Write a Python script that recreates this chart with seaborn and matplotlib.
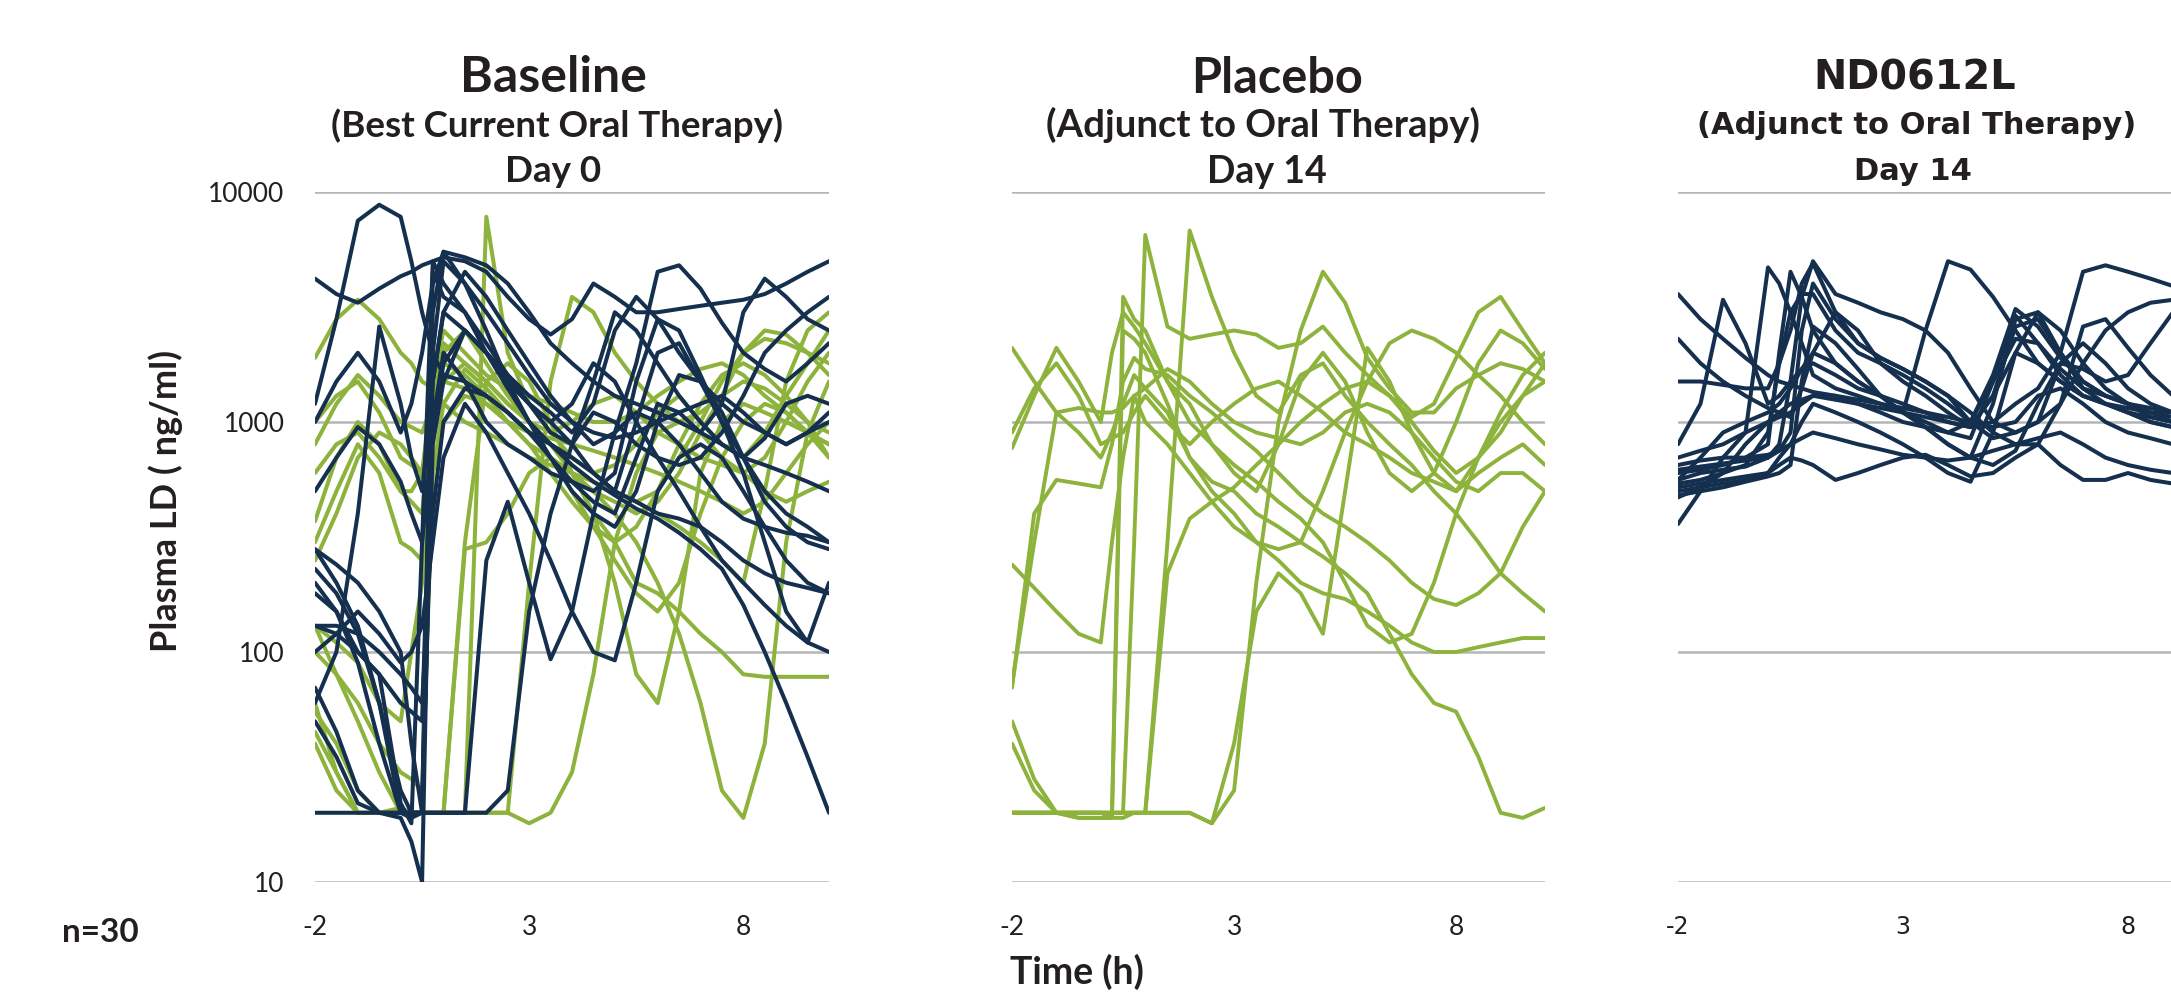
import matplotlib
matplotlib.use("Agg")
import matplotlib.pyplot as plt
import pandas as pd
import seaborn as sns
from matplotlib.ticker import NullLocator

# ---------------- data ----------------
TIME = [-2, -1.5, -1, -0.5, 0, 0.25, 0.5, 0.75, 1, 1.5, 2, 2.5, 3, 3.5, 4, 4.5,
        5, 5.5, 6, 6.5, 7, 7.5, 8, 8.5, 9, 9.5, 10]

# Baseline (Day 0) - subjects later randomised to ND0612L (navy)
BASE_ND = [
    [1200, 2800, 7500, 8800, 7800, 5000, 3000, 2000, 1600, 1500, 1300, 1100, 900, 800, 700, 600, 500, 450, 400, 380, 350, 300, 250, 220, 200, 190, 180],
    [4200, 3600, 3300, 3800, 4300, 4500, 4800, 5000, 5200, 5000, 4500, 3500, 2800, 2400, 2800, 4000, 3500, 3000, 3000, 3100, 3200, 3300, 3400, 3600, 4000, 4500, 5000],
    [280, 200, 130, 60, 20, 20, 20, 3000, 5500, 4000, 2500, 1500, 1000, 700, 500, 400, 350, 500, 1000, 1600, 1500, 1100, 700, 450, 350, 300, 280],
    [200, 150, 90, 40, 20, 19, 20, 4500, 3500, 3000, 2000, 1500, 1200, 1000, 800, 600, 500, 1000, 2000, 2200, 1500, 1000, 700, 500, 400, 350, 300],
    [130, 120, 100, 80, 22, 18, 300, 5000, 4000, 3000, 2200, 1600, 1200, 900, 800, 1500, 3000, 2500, 1800, 1300, 1000, 800, 700, 650, 600, 550, 500],
    [70, 45, 25, 20, 20, 20, 20, 20, 20, 20, 250, 450, 200, 93, 150, 400, 900, 1100, 1000, 800, 600, 450, 380, 350, 330, 320, 300],
    [20, 20, 20, 20, 19, 15, 10, 2000, 5000, 4000, 3000, 2200, 1600, 1200, 1000, 900, 850, 900, 1000, 1100, 1200, 1300, 1100, 900, 800, 900, 1000],
    [60, 100, 400, 2600, 1200, 700, 500, 1500, 3000, 2500, 2000, 1600, 1300, 1100, 900, 1200, 2500, 3500, 2800, 2000, 1500, 1200, 1000, 900, 800, 900, 1100],
    [500, 700, 950, 800, 550, 400, 300, 900, 1800, 2500, 2000, 1500, 1200, 1000, 1200, 1800, 1500, 1000, 700, 500, 350, 250, 200, 160, 130, 110, 100],
    [100, 120, 150, 120, 90, 100, 130, 300, 700, 1200, 900, 600, 400, 250, 150, 100, 92, 200, 500, 700, 800, 700, 500, 350, 250, 200, 180],
    [280, 240, 200, 150, 100, 40, 20, 800, 1500, 2500, 2000, 1400, 1000, 800, 650, 550, 480, 420, 380, 330, 280, 230, 160, 100, 60, 35, 20],
    [1000, 1500, 2000, 1500, 900, 1200, 2000, 4000, 5500, 5200, 4800, 4000, 3000, 2200, 1800, 1500, 1300, 1200, 1100, 1000, 900, 1200, 3000, 4200, 3500, 2800, 2500],
    [180, 150, 100, 80, 60, 55, 50, 1500, 3000, 4500, 3500, 2500, 1800, 1300, 1000, 800, 900, 1800, 4500, 4800, 3800, 2700, 2000, 1700, 1500, 1800, 2200],
    [230, 180, 120, 60, 25, 20, 20, 1000, 2000, 1500, 1000, 800, 700, 600, 550, 500, 600, 1500, 2800, 2500, 1600, 1000, 600, 300, 150, 110, 200],
    [50, 35, 22, 20, 20, 20, 20, 20, 20, 20, 20, 25, 150, 400, 800, 1100, 1000, 800, 700, 650, 700, 900, 1300, 2000, 2500, 3000, 3500],
    [130, 130, 120, 100, 80, 70, 60, 400, 1000, 1400, 1300, 1100, 900, 700, 550, 450, 400, 700, 1200, 1100, 900, 800, 700, 850, 1200, 1300, 1200],
]

# Baseline (Day 0) - subjects later randomised to placebo (green)
BASE_PL = [
    [1900, 2800, 3400, 2800, 2000, 1800, 1500, 1400, 1200, 1000, 900, 800, 700, 650, 600, 550, 500, 450, 500, 700, 1000, 1500, 2000, 2300, 2200, 2000, 1800],
    [370, 700, 1000, 800, 500, 500, 600, 1000, 1500, 1800, 1500, 1200, 1000, 800, 600, 400, 200, 80, 60, 150, 600, 1000, 1200, 1100, 1000, 900, 800],
    [130, 80, 50, 30, 20, 20, 20, 20, 20, 300, 1500, 1800, 1500, 1000, 600, 400, 300, 200, 180, 150, 120, 100, 80, 78, 78, 78, 78],
    [40, 25, 20, 20, 20, 20, 20, 20, 20, 20, 7800, 2000, 1200, 900, 700, 600, 500, 450, 400, 350, 300, 250, 200, 500, 1500, 2500, 3000],
    [60, 30, 20, 20, 20, 20, 20, 20, 20, 280, 300, 400, 600, 700, 600, 500, 400, 300, 200, 120, 60, 25, 19, 40, 300, 900, 1500],
    [250, 400, 700, 900, 800, 700, 600, 1500, 2500, 2000, 1600, 1400, 1300, 1200, 1100, 1000, 1000, 1100, 1300, 1500, 1700, 1800, 1600, 1300, 1100, 900, 800],
    [800, 1200, 1600, 1300, 1000, 950, 900, 1200, 1500, 1400, 1200, 1000, 800, 700, 600, 500, 450, 400, 450, 600, 900, 1300, 2000, 2500, 2400, 2000, 1600],
    [45, 30, 20, 20, 21, 20, 20, 20, 20, 20, 20, 20, 200, 1500, 3500, 3000, 2000, 1500, 1200, 1000, 1100, 1300, 1500, 1400, 1200, 1000, 900],
    [130, 110, 90, 60, 50, 100, 200, 1000, 2000, 2500, 1800, 1300, 1000, 800, 700, 600, 650, 800, 1100, 1300, 1000, 800, 700, 900, 1300, 1800, 2500],
    [600, 800, 900, 700, 500, 450, 400, 1200, 2200, 1800, 1500, 1200, 1000, 900, 1000, 1200, 1300, 1100, 900, 800, 700, 650, 600, 700, 1000, 1500, 2000],
    [100, 80, 60, 40, 30, 28, 25, 600, 1200, 1700, 1400, 1100, 900, 700, 500, 350, 250, 180, 150, 200, 400, 700, 1000, 1200, 1100, 900, 700],
    [300, 500, 800, 600, 300, 280, 250, 600, 1000, 1300, 1200, 1000, 900, 850, 800, 750, 700, 650, 600, 550, 500, 450, 400, 450, 600, 800, 1000],
    [1000, 1300, 1500, 1100, 700, 650, 600, 1200, 1800, 1600, 1300, 1000, 800, 600, 450, 350, 300, 350, 500, 800, 1200, 1600, 1800, 1600, 1300, 1000, 700],
    [55, 40, 25, 20, 20, 20, 20, 20, 20, 20, 20, 20, 18, 20, 30, 80, 300, 600, 900, 1000, 900, 700, 600, 500, 450, 500, 550],
]

# Day 14 - placebo adjunct (green)
PLACEBO_D14 = [
    [20, 20, 20, 20, 20, 20, 20, 300, 6500, 2600, 2300, 2400, 2500, 2400, 2100, 2200, 2600, 2000, 1600, 1300, 1050, 1200, 1900, 3000, 3500, 2500, 1800],
    [20, 20, 20, 20, 20, 20, 20, 20, 20, 300, 6800, 3500, 2000, 1300, 1100, 1600, 1800, 1300, 1000, 800, 650, 500, 400, 300, 220, 180, 150],
    [20, 20, 20, 20, 20, 20, 20, 20, 20, 20, 20, 18, 25, 200, 1000, 2500, 4500, 3300, 1900, 1400, 1100, 1100, 1400, 1600, 1800, 1700, 1500],
    [20, 20, 20, 20, 20, 19, 19, 20, 20, 20, 20, 18, 40, 150, 220, 180, 120, 500, 2100, 1500, 900, 600, 500, 700, 1100, 1600, 2000],
    [2100, 1500, 1100, 900, 700, 900, 1200, 1600, 1400, 1100, 700, 550, 500, 400, 350, 300, 260, 220, 180, 120, 80, 60, 55, 35, 20, 19, 21],
    [770, 1300, 2100, 1500, 1000, 2000, 3000, 2600, 2200, 1500, 1000, 800, 650, 550, 450, 380, 300, 200, 130, 110, 120, 200, 400, 700, 1000, 1300, 1500],
    [900, 1400, 1800, 1300, 800, 850, 900, 1100, 1300, 1000, 800, 1000, 1200, 1400, 1500, 1300, 1100, 900, 800, 700, 600, 550, 500, 600, 700, 800, 650],
    [240, 190, 150, 120, 110, 300, 700, 1300, 1000, 800, 600, 450, 350, 300, 250, 200, 180, 170, 150, 130, 110, 100, 100, 105, 110, 115, 115],
    [72, 300, 1100, 1150, 1100, 1100, 1150, 1300, 1400, 1700, 1500, 1200, 1000, 900, 850, 800, 900, 1100, 1200, 1100, 900, 700, 550, 500, 600, 600, 500],
    [70, 400, 560, 540, 520, 800, 1500, 1900, 1700, 1600, 1300, 1100, 900, 750, 600, 480, 400, 350, 300, 250, 200, 170, 160, 180, 220, 350, 500],
    [50, 28, 20, 19, 19, 19, 2500, 2300, 2000, 1200, 700, 500, 400, 300, 280, 300, 500, 900, 1500, 2200, 2500, 2300, 2000, 1600, 1300, 1000, 800],
    [40, 25, 20, 19, 19, 19, 3500, 2800, 2500, 1500, 1200, 800, 600, 500, 800, 1500, 2000, 1500, 900, 600, 500, 600, 1000, 1800, 2500, 2200, 1700],
    [20, 20, 20, 20, 20, 20, 20, 20, 20, 220, 380, 450, 520, 650, 800, 1000, 1200, 1400, 1500, 1300, 1000, 750, 600, 700, 900, 1300, 1800],
]

# Day 14 - ND0612L adjunct (navy)
ND_D14 = [
    [3600, 2800, 2300, 1900, 1600, 1500, 1450, 1400, 1350, 1300, 1250, 1200, 1150, 1100, 1050, 1000, 950, 1000, 1300, 1400, 1200, 1000, 900, 850, 800, 780, 760],
    [2300, 1800, 1500, 1300, 1150, 1100, 1050, 1400, 2000, 3000, 2500, 1800, 1500, 1300, 1100, 950, 1300, 2600, 2800, 2000, 1500, 1300, 1200, 1100, 1000, 950, 900],
    [1500, 1500, 1450, 1400, 1400, 1800, 2500, 4000, 4900, 3000, 2200, 1900, 1700, 1500, 1300, 1100, 900, 800, 800, 1200, 1800, 2500, 3000, 3300, 3400, 3400, 3300],
    [800, 1200, 3400, 2200, 1200, 1300, 1500, 1700, 1800, 1600, 1400, 1300, 1200, 1100, 1000, 950, 1300, 2000, 1800, 1500, 1300, 1200, 1150, 1100, 1100, 1100, 1100],
    [700, 750, 800, 900, 4700, 4000, 3000, 2200, 1600, 1400, 1300, 1200, 1100, 1000, 900, 850, 1500, 2900, 2200, 1600, 1300, 1200, 1100, 1000, 950, 900, 900],
    [600, 620, 650, 700, 800, 2000, 4500, 3500, 2500, 1800, 1500, 1300, 1100, 950, 800, 700, 1200, 2800, 3000, 2000, 1400, 1200, 1100, 1000, 950, 900, 900],
    [560, 600, 620, 640, 700, 800, 1500, 3500, 5000, 3600, 3300, 3000, 2800, 2500, 2000, 1400, 1000, 900, 1000, 1800, 2200, 1800, 1400, 1200, 1100, 1000, 950],
    [540, 560, 600, 650, 900, 1800, 3000, 3600, 3600, 2500, 2000, 1800, 1600, 1400, 1200, 1000, 1600, 3100, 2600, 1900, 1500, 1300, 1200, 1150, 1100, 1100, 1050],
    [520, 540, 560, 580, 600, 650, 700, 680, 650, 560, 600, 650, 700, 720, 650, 580, 600, 700, 800, 650, 560, 560, 600, 560, 540, 550, 560],
    [500, 520, 540, 560, 600, 700, 800, 1000, 1200, 1100, 1000, 900, 800, 700, 600, 550, 900, 2000, 3000, 2500, 1800, 1400, 1200, 1050, 1000, 950, 900],
    [480, 500, 520, 550, 580, 600, 650, 1500, 2600, 2200, 1700, 1300, 1100, 2500, 5000, 4600, 3500, 2500, 1800, 1500, 1300, 1200, 1100, 1050, 1000, 950, 900],
    [470, 520, 600, 800, 1000, 1100, 1200, 1250, 1300, 1250, 1200, 1150, 1100, 1050, 1000, 950, 1000, 1200, 1400, 2000, 4500, 4800, 4500, 4200, 3900, 3700, 3500],
    [560, 700, 900, 1000, 1100, 1200, 1400, 1700, 2000, 1800, 1500, 1300, 1100, 950, 800, 700, 650, 750, 1200, 1800, 1700, 1500, 1600, 2200, 3000, 3300, 3400],
    [360, 500, 700, 900, 1000, 1050, 1100, 1200, 1300, 1300, 1200, 1100, 1000, 950, 900, 1000, 1500, 2300, 2200, 1700, 1400, 1300, 1200, 1100, 1050, 1000, 1000],
    [620, 640, 660, 680, 700, 750, 900, 2500, 4000, 2800, 2200, 1900, 1700, 1500, 1300, 1000, 850, 900, 1000, 1200, 2600, 2800, 2100, 1600, 1300, 1200, 1100],
    [650, 680, 700, 700, 720, 750, 800, 850, 900, 850, 800, 760, 720, 700, 680, 700, 750, 800, 850, 900, 800, 700, 650, 620, 600, 620, 650],
]

ARMS = ["Placebo", "ND0612L"]
PANEL_TITLES = [
    ("Baseline", "(Best Current Oral Therapy)", "Day 0"),
    ("Placebo", "(Adjunct to Oral Therapy)", "Day 14"),
    ("ND0612L", "(Adjunct to Oral Therapy)", "Day 14"),
]
X_TICKS = [-2, 3, 8]
Y_TICKS = [10, 100, 1000, 10000]
Y_TICKLABELS = ["10", "100", "1000", "10000"]

for nm, grp in [("BASE_ND", BASE_ND), ("BASE_PL", BASE_PL), ("PLACEBO_D14", PLACEBO_D14), ("ND_D14", ND_D14)]:
    for i, r in enumerate(grp):
        if len(r) != len(TIME):
            raise ValueError(f"{nm}[{i}] has {len(r)} values")


def long_frame(groups):
    rows = []
    for arm, series in groups:
        for sid, vals in enumerate(series):
            for t, v in zip(TIME, vals):
                rows.append({"arm": arm, "subject": f"{arm}-{sid}", "time": t, "value": v})
    return pd.DataFrame(rows)


df_base = long_frame([("Placebo", BASE_PL), ("ND0612L", BASE_ND)])
df_pl = long_frame([("Placebo", PLACEBO_D14)])
df_nd = long_frame([("ND0612L", ND_D14)])

# ---------------- style ----------------
NAVY = "#15304f"
GREEN = "#8db33c"
GRID = "#b5b5b5"
TXT = "#231f20"
PAL = {"Placebo": GREEN, "ND0612L": NAVY}

sns.set_theme(style="white")
plt.rcParams["font.family"] = ["Lato", "DejaVu Sans"]
HUM = ["Lato", "DejaVu Sans"]
VER = ["DejaVu Sans"]

W, H = 2171, 993
fig = plt.figure(figsize=(W / 100, H / 100), dpi=100)
fig.patch.set_facecolor("white")


def px_axes(x0, x1, y0, y1):
    return fig.add_axes([x0 / W, 1 - y1 / H, (x1 - x0) / W, (y1 - y0) / H])


ax1 = px_axes(315, 829, 192, 882)
ax2 = px_axes(1012, 1545, 192, 882)
ax3 = px_axes(1678, 2218, 192, 882)

line_kw = dict(solid_joinstyle="round", solid_capstyle="round")
sns.lineplot(data=df_base, x="time", y="value", hue="arm", hue_order=ARMS, palette=PAL,
             units="subject", estimator=None, sort=False, legend=False, linewidth=2.9, ax=ax1, **line_kw)
sns.lineplot(data=df_pl, x="time", y="value", hue="arm", hue_order=["Placebo"], palette=PAL,
             units="subject", estimator=None, sort=False, legend=False, linewidth=2.8, ax=ax2, **line_kw)
sns.lineplot(data=df_nd, x="time", y="value", hue="arm", hue_order=["ND0612L"], palette=PAL,
             units="subject", estimator=None, sort=False, legend=False, linewidth=2.9, ax=ax3, **line_kw)

for k, ax in enumerate([ax1, ax2, ax3]):
    ax.set_yscale("log")
    ax.set_ylim(10, 10000)
    ax.set_xlim(-2, 10)
    ax.set_yticks(Y_TICKS)
    ax.yaxis.set_minor_locator(NullLocator())
    ax.set_xticks(X_TICKS)
    ax.set_xlabel("")
    ax.set_ylabel("")
    for s in ax.spines.values():
        s.set_visible(False)
    ax.grid(False)
    ax.yaxis.grid(True, color=GRID, linewidth=1.8)
    ax.set_axisbelow(True)
    ax.tick_params(axis="both", length=0)
    ax.tick_params(axis="x", pad=24, labelcolor=TXT)
    fam = HUM if k < 2 else VER
    ax.set_xticklabels([str(v) for v in X_TICKS], family=fam, fontsize=19 if k < 2 else 17)
    if k == 0:
        ax.set_yticklabels(Y_TICKLABELS, family=HUM, fontsize=19, color=TXT)
        ax.tick_params(axis="y", pad=22)
    else:
        ax.tick_params(axis="y", labelleft=False)


def ftext(x, y, s, va="baseline", **kw):
    fig.text(x / W, 1 - y / H, s, ha="center", va=va, color=TXT, **kw)


# panel titles (baseline positions in pixels)
ftext(553, 92, PANEL_TITLES[0][0], family=HUM, fontweight="bold", fontsize=36)
ftext(557, 137, PANEL_TITLES[0][1], family=HUM, fontweight="bold", fontsize=26.5)
ftext(553, 182, PANEL_TITLES[0][2], family=HUM, fontweight="bold", fontsize=26.5)

ftext(1277, 93, PANEL_TITLES[1][0], family=HUM, fontweight="bold", fontsize=35)
ftext(1263, 137, PANEL_TITLES[1][1], family=HUM, fontweight="bold", fontsize=27.5)
ftext(1267, 183, PANEL_TITLES[1][2], family=HUM, fontweight="bold", fontsize=27)

ftext(1915, 90, PANEL_TITLES[2][0], family=VER, fontweight="bold", fontsize=28.7)
ftext(1917, 134, PANEL_TITLES[2][1], family=VER, fontweight="bold", fontsize=22)
ftext(1913, 180, PANEL_TITLES[2][2], family=VER, fontweight="bold", fontsize=22)

# axis labels and notes
fig.text(166 / W, 1 - 501 / H, "Plasma LD ( ng/ml)", rotation=90, ha="center", va="center",
         color=TXT, family=HUM, fontweight="bold", fontsize=26)
ftext(100, 933, "n=30", va="center", family=HUM, fontweight="bold", fontsize=24)
ftext(1077, 954, "Time (h)", va="top", family=HUM, fontweight="bold", fontsize=27)

fig.savefig("out.png", dpi=100, facecolor="white")
